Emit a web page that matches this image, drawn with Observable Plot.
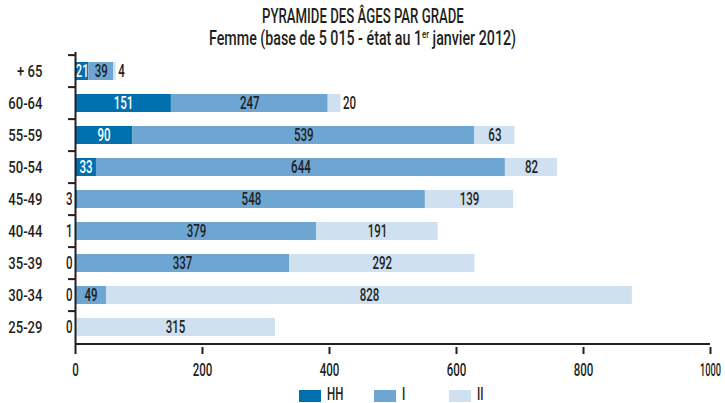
<!DOCTYPE html>
<html><head><meta charset="utf-8">
<script src="https://cdn.jsdelivr.net/npm/d3@7"></script>
<script src="https://cdn.jsdelivr.net/npm/@observablehq/plot@0.6"></script>
<style>
body{margin:0;background:#fff;font-family:Roboto,"Liberation Sans",sans-serif;font-weight:500;color:#231f20;width:725px;height:403px;overflow:hidden;position:relative}
#title{height:49px;padding-top:5px;box-sizing:border-box;text-align:center;position:relative}
#title .line{line-height:22px;font-size:20px;white-space:nowrap;text-align:center}
#title .line span{display:inline-block;transform-origin:50% 50%}
#title sup{font-size:11px;vertical-align:7px;line-height:0}
#legend{position:absolute;top:385px;left:299px;display:flex}
#legend .item{width:75px;display:flex;align-items:flex-start}
#legend .sw{width:22px;height:12px;margin-top:5px}
#legend .lab{display:inline-block;margin-left:6px;font-size:18px;line-height:18px;transform:scaleX(0.64);transform-origin:0 0}
</style>
</head><body>
<div id="title">
  <div class="line"><span id="t1">PYRAMIDE DES ÂGES PAR GRADE</span></div>
  <div class="line"><span id="t2">Femme (base de 5 015 - état au 1<sup>er</sup> janvier 2012)</span></div>
</div>
<div id="chart"></div>
<div id="legend"></div>
<script>
const ages = ["+ 65","60-64","55-59","50-54","45-49","40-44","35-39","30-34","25-29"];
const grades = ["HH","I","II"];
const valuesHH = [21,151,90,33,3,1,0,0,0];
const valuesI = [39,247,539,644,548,379,337,49,0];
const valuesII = [4,20,63,82,139,191,292,828,315];
const xTicks = [0,200,400,600,800,1000];
const colors = ["#0071ae","#6da6d3","#cfe0f0"];

const series = [valuesHH, valuesI, valuesII];
const rows = [];
ages.forEach((age, i) => grades.forEach((g, j) => rows.push({age, grade: g, value: series[j][i]})));
const totals = ages.map((age, i) => ({age, total: valuesHH[i] + valuesI[i] + valuesII[i]}));
const smallHH = rows.filter(d => d.grade === "HH" && d.value < 10);
const endLabels = rows.filter(d => d.grade === "II" && d.value < 30)
  .map(d => ({...d, total: totals.find(t => t.age === d.age).total}));
const inside = d => (d.grade === "HH" && d.value >= 10) || (d.grade === "I" && d.value > 0) || (d.grade === "II" && d.value >= 30);

const W = 725, H = 334, mT = 3, mB = 36, mL = 75, mR = 15;
const padIn = 0.43, padOut = 0.215;
const step = (H - mT - mB) / (ages.length - padIn + 2 * padOut);
const ink = "#231f20";

const plot = Plot.plot({
  width: W, height: H,
  marginTop: mT, marginBottom: mB, marginLeft: mL, marginRight: mR,
  style: {fontFamily: "Roboto, 'Liberation Sans', sans-serif", fontWeight: 500, color: ink, background: "white"},
  x: {domain: [0, 1000]},
  y: {domain: ages, paddingInner: padIn, paddingOuter: padOut},
  color: {domain: grades, range: colors},
  marks: [
    Plot.barX(rows, Plot.stackX({y: "age", x: "value", fill: "grade", z: "grade"})),
    Plot.text(rows, Plot.stackX({y: "age", x: "value", z: "grade",
      text: d => inside(d) ? String(d.value) : "",
      fill: d => d.grade === "HH" ? "white" : ink, fontSize: 18})),
    Plot.text(smallHH, {y: "age", x: () => 0, text: d => String(d.value), textAnchor: "end", dx: -3, fill: ink, fontSize: 18}),
    Plot.text(endLabels, {y: "age", x: "total", text: d => String(d.value), textAnchor: "start", dx: 2, fill: ink, fontSize: 18}),
    Plot.ruleX([0], {stroke: ink, strokeWidth: 2}),
    Plot.ruleY(ages, {y: d => d, x1: () => 0, x2: () => 0, insetLeft: -7, dy: -step / 2, stroke: ink, strokeWidth: 2}),
    Plot.ruleY([ages[ages.length - 1]], {y: d => d, dy: step / 2, stroke: ink, strokeWidth: 2}),
    Plot.axisX({ticks: xTicks, tickFormat: d => String(d), tickSize: 7, tickPadding: 9, fontSize: 18, strokeWidth: 2, stroke: ink, label: null}),
    Plot.axisY({tickSize: 0, tickPadding: 33, fontSize: 17, label: null})
  ]
});
document.getElementById("chart").appendChild(plot);

// condensed look: narrow each text horizontally
function squeeze(sel, k, maxW = Infinity) {
  plot.querySelectorAll(sel).forEach(t => {
    const L = t.getComputedTextLength();
    if (L > 0) { t.setAttribute("textLength", Math.min(L * k, maxW)); t.setAttribute("lengthAdjust", "spacingAndGlyphs"); }
  });
}
squeeze('g[aria-label="y-axis tick label"] text', 0.77);
squeeze('g[aria-label="x-axis tick label"] text', 0.64, 21);
squeeze('g[aria-label="text"] text', 0.64);

// title widths
[["t1", 202], ["t2", 307]].forEach(([id, target]) => {
  const el = document.getElementById(id);
  el.style.transform = `scaleX(${target / el.offsetWidth})`;
});

// legend
const leg = document.getElementById("legend");
grades.forEach((g, i) => {
  const item = document.createElement("div"); item.className = "item";
  const sw = document.createElement("div"); sw.className = "sw"; sw.style.background = colors[i];
  const lab = document.createElement("span"); lab.className = "lab"; lab.textContent = g;
  item.appendChild(sw); item.appendChild(lab); leg.appendChild(item);
});
</script>
</body></html>
